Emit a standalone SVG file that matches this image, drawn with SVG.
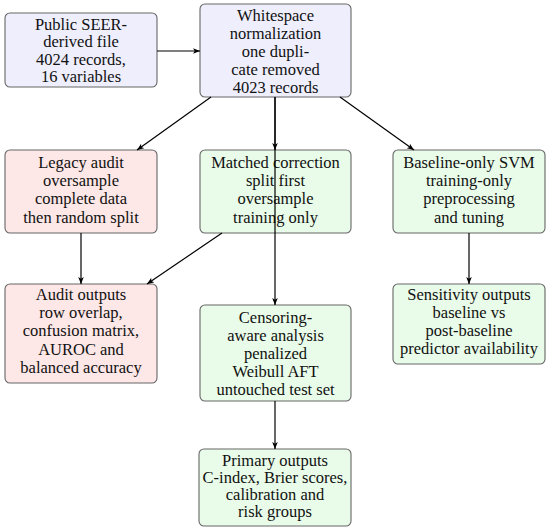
<svg xmlns="http://www.w3.org/2000/svg" width="550" height="531" viewBox="0 0 550 531">
<style>
.box{stroke:#666;stroke-width:1.1}
.blue{fill:#EEEEFC}
.red{fill:#FDE7E7}
.green{fill:#E9FCE9}
text{font-family:"Liberation Serif","Times New Roman",serif;font-size:16.5px;fill:#111;text-anchor:middle}
.edge{stroke:#000;stroke-width:1.2;fill:none;marker-end:url(#ah)}
</style>
<defs>
<marker id="ah" viewBox="0 0 10 10" refX="10" refY="5" markerWidth="7" markerHeight="7" markerUnits="userSpaceOnUse" orient="auto">
<path d="M0,1 L10,5 L0,9 L2.5,5 Z" fill="#000"/>
</marker>
</defs>
<rect width="550" height="531" fill="#fff"/>
<g id="n_public">
<rect class="box blue" x="5" y="13" width="152" height="74" rx="5"/>
<text x="81" y="30"><tspan x="81">Public SEER-</tspan><tspan x="81" dy="17.4">derived file</tspan><tspan x="81" dy="17.4">4024 records,</tspan><tspan x="81" dy="17.4">16 variables</tspan></text>
</g>
<g id="n_whitespace">
<rect class="box blue" x="200" y="4" width="151" height="93" rx="5"/>
<text x="275.5" y="21"><tspan x="275.5">Whitespace</tspan><tspan x="275.5" dy="17.9">normalization</tspan><tspan x="275.5" dy="17.9">one dupli-</tspan><tspan x="275.5" dy="17.9">cate removed</tspan><tspan x="275.5" dy="17.9">4023 records</tspan></text>
</g>
<g id="n_legacy">
<rect class="box red" x="5" y="150" width="152" height="83" rx="5"/>
<text x="81" y="168"><tspan x="81">Legacy audit</tspan><tspan x="81" dy="18.2">oversample</tspan><tspan x="81" dy="18.2">complete data</tspan><tspan x="81" dy="18.2">then random split</tspan></text>
</g>
<g id="n_matched">
<rect class="box green" x="200" y="150" width="151" height="83" rx="5"/>
<text x="275.5" y="168"><tspan x="275.5">Matched correction</tspan><tspan x="275.5" dy="18.2">split first</tspan><tspan x="275.5" dy="18.2">oversample</tspan><tspan x="275.5" dy="18.2">training only</tspan></text>
</g>
<g id="n_baseline">
<rect class="box green" x="393" y="150" width="152" height="83" rx="5"/>
<text x="469" y="168"><tspan x="469">Baseline-only SVM</tspan><tspan x="469" dy="18.2">training-only</tspan><tspan x="469" dy="18.2">preprocessing</tspan><tspan x="469" dy="18.2">and tuning</tspan></text>
</g>
<g id="n_audit">
<rect class="box red" x="5" y="284" width="152" height="99" rx="5"/>
<text x="81" y="300"><tspan x="81">Audit outputs</tspan><tspan x="81" dy="18.2">row overlap,</tspan><tspan x="81" dy="18.2">confusion matrix,</tspan><tspan x="81" dy="18.2">AUROC and</tspan><tspan x="81" dy="18.2">balanced accuracy</tspan></text>
</g>
<g id="n_censoring">
<rect class="box green" x="200" y="305" width="151" height="96" rx="5"/>
<text x="275.5" y="322.5"><tspan x="275.5">Censoring-</tspan><tspan x="275.5" dy="18.2">aware analysis</tspan><tspan x="275.5" dy="18.2">penalized</tspan><tspan x="275.5" dy="18.2">Weibull AFT</tspan><tspan x="275.5" dy="18.2">untouched test set</tspan></text>
</g>
<g id="n_sensitivity">
<rect class="box green" x="393" y="284" width="152" height="80" rx="5"/>
<text x="469" y="300"><tspan x="469">Sensitivity outputs</tspan><tspan x="469" dy="18">baseline vs</tspan><tspan x="469" dy="18">post-baseline</tspan><tspan x="469" dy="18">predictor availability</tspan></text>
</g>
<g id="n_primary">
<rect class="box green" x="199" y="449" width="152" height="77" rx="5"/>
<text x="275" y="465.5"><tspan x="275">Primary outputs</tspan><tspan x="275" dy="17.2">C-index, Brier scores,</tspan><tspan x="275" dy="17.2">calibration and</tspan><tspan x="275" dy="17.2">risk groups</tspan></text>
</g>
<g id="connectors">
<path class="edge" d="M157,51 L200,51"/>
<path class="edge" d="M211,97 L137,150"/>
<path class="edge" d="M275,97 L275,150"/>
<path class="edge" d="M275,97 L275,305"/>
<path class="edge" d="M340,97 L414,150"/>
<path class="edge" d="M81,233 L81,284"/>
<path class="edge" d="M222,233 L147,284"/>
<path class="edge" d="M469,233 L469,284"/>
<path class="edge" d="M275,401 L275,449"/>
</g>
</svg>
